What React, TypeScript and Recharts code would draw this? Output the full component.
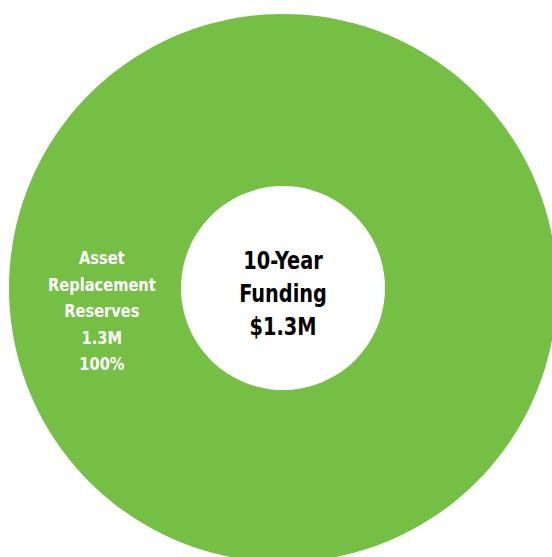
import React from 'react';
import { PieChart, Pie, Cell } from 'recharts';

// --- Data ---
const categories = ['Asset Replacement Reserves'];
const values = [1.3]; // millions
const centerTitle = ['10-Year', 'Funding'];

const COLORS = ['#74BF44'];
const FONT = '"DejaVu Sans Condensed", "Liberation Sans Narrow", sans-serif';
const CX = 283;
const CY = 288;

const total = values.reduce((a, b) => a + b, 0);
const data = categories.map((name, i) => ({
  name,
  value: values[i],
  pct: Math.round((values[i] / total) * 100),
}));

const RADIAN = Math.PI / 180;

// squeeze text horizontally around x to mimic a condensed face
const squeeze = (x: number, k: number) => `translate(${x},0) scale(${k},1) translate(${-x},0)`;

// --- Slice label: name words stacked, then value and share ---
function renderSliceLabel(props: any) {
  const { cx, cy, midAngle, innerRadius, outerRadius, name, value, pct } = props;
  const r = innerRadius + (outerRadius - innerRadius) * 0.46;
  const x = cx + r * Math.cos(-midAngle * RADIAN);
  const y = cy + r * Math.sin(-midAngle * RADIAN) + 23;
  const lines = [...String(name).split(' '), `${value}M`, `${pct}%`];
  const lineH = 26.5;
  const top = y - ((lines.length - 1) * lineH) / 2;
  return (
    <text
      x={x}
      y={top}
      fill="#fff"
      textAnchor="middle"
      dominantBaseline="central"
      fontFamily={FONT}
      fontWeight="bold"
      fontSize={18.5}
      transform={squeeze(x, 0.88)}
    >
      {lines.map((l, i) => (
        <tspan key={i} x={x} y={top + i * lineH}>
          {l}
        </tspan>
      ))}
    </text>
  );
}

function CenterLabel() {
  const lines = [...centerTitle, `$${total.toFixed(1)}M`];
  const lineH = 33;
  const top = CY - 29;
  return (
    <text
      x={CX}
      y={top}
      fill="#000"
      textAnchor="middle"
      dominantBaseline="central"
      fontFamily={FONT}
      fontWeight="bold"
      fontSize={25}
      transform={squeeze(CX, 0.86)}
    >
      {lines.map((l, i) => (
        <tspan key={i} x={CX} y={top + i * lineH}>
          {l}
        </tspan>
      ))}
    </text>
  );
}

export default function App() {
  return (
    <div style={{ position: 'fixed', left: 0, top: 0, width: 552, height: 557, background: '#fff' }}>
      <PieChart width={552} height={557} margin={{ top: 0, right: 0, bottom: 0, left: 0 }}>
        <Pie
          data={data}
          dataKey="value"
          nameKey="name"
          cx={CX}
          cy={CY}
          innerRadius={102}
          outerRadius={274}
          startAngle={0}
          endAngle={360}
          stroke="none"
          label={renderSliceLabel}
          labelLine={false}
          isAnimationActive={false}
        >
          {data.map((entry, index) => (
            <Cell key={`cell-${index}`} fill={COLORS[index % COLORS.length]} />
          ))}
        </Pie>
        <CenterLabel />
      </PieChart>
    </div>
  );
}
